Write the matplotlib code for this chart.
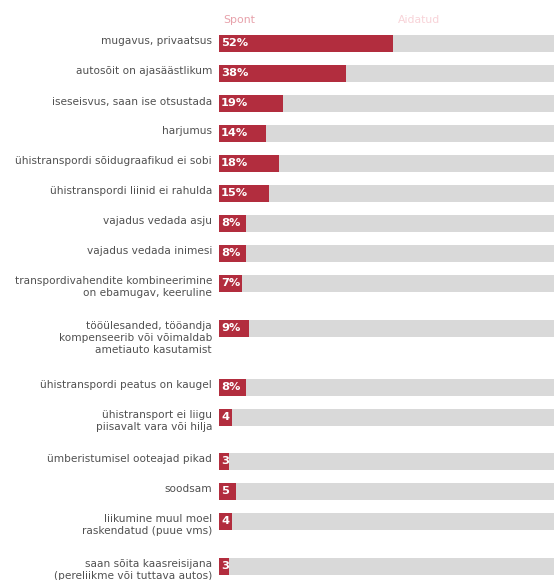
import numpy as np
import matplotlib
matplotlib.use("Agg")
import matplotlib.pyplot as plt

plt.rcParams['font.family'] = ['DejaVu Sans']

LABELS = [
    "mugavus, privaatsus",
    "autosõit on ajasäästlikum",
    "iseseisvus, saan ise otsustada",
    "harjumus",
    "ühistranspordi sõidugraafikud ei sobi",
    "ühistranspordi liinid ei rahulda",
    "vajadus vedada asju",
    "vajadus vedada inimesi",
    "transpordivahendite kombineerimine\non ebamugav, keeruline",
    "tööülesanded, tööandja\nkompenseerib või võimaldab\nametiauto kasutamist",
    "ühistranspordi peatus on kaugel",
    "ühistransport ei liigu\npiisavalt vara või hilja",
    "ümberistumisel ooteajad pikad",
    "soodsam",
    "liikumine muul moel\nraskendatud (puue vms)",
    "saan sõita kaasreisijana\n(pereliikme või tuttava autos)",
]
SPONT = [52, 38, 19, 14, 18, 15, 8, 8, 7, 9, 8, 4, 3, 5, 4, 3]
# small shares are shown without the percent sign
SHOW_PCT = [True] * 11 + [False] * 5
HEADERS = ["Spont", "Aidatud"]

RED = "#B22D3E"
GREY = "#D9D9D9"
TEXT = "#505050"

W, H = 554, 580
fig = plt.figure(figsize=(W / 100, H / 100), dpi=100, facecolor="white")
x0 = 219 / W
ax = fig.add_axes([x0, 0, 1 - x0, 1])

# row spacing grows with the number of label lines
ROW, EXTRA = 30.0, 14.5
ys = [0.0]
for lab in LABELS[:-1]:
    ys.append(ys[-1] + ROW + EXTRA * lab.count("\n"))
ys = np.array(ys)

bar_h = 17
ax.barh(ys, [100] * len(ys), height=bar_h, color=GREY, zorder=1)
ax.barh(ys, SPONT, height=bar_h, color=RED, zorder=2)

ax.set_xlim(0, 100)
ax.set_ylim(H - 43.5, -43.5)
ax.axis("off")

for y, lab, v, pct in zip(ys, LABELS, SPONT, SHOW_PCT):
    ax.annotate(lab, xy=(0, y), xytext=(-7, 7), textcoords="offset pixels",
                ha="right", va="top", multialignment="right", fontsize=7.6,
                color=TEXT, linespacing=1.22, annotation_clip=False)
    ax.annotate(f"{v}%" if pct else f"{v}", xy=(0, y), xytext=(2, 0),
                textcoords="offset pixels", ha="left", va="center",
                fontsize=8.2, fontweight="bold", color="white", zorder=3)

ax.annotate(HEADERS[0], xy=(0, -23.5), xytext=(4, 0), textcoords="offset pixels",
            ha="left", va="center", fontsize=7.8, color="#E7A1AA",
            annotation_clip=False)
ax.annotate(HEADERS[1], xy=(53.5, -23.5), ha="left", va="center", fontsize=7.8,
            color="#F8D3D8", annotation_clip=False)

fig.savefig("out.png", dpi=100, facecolor="white")
